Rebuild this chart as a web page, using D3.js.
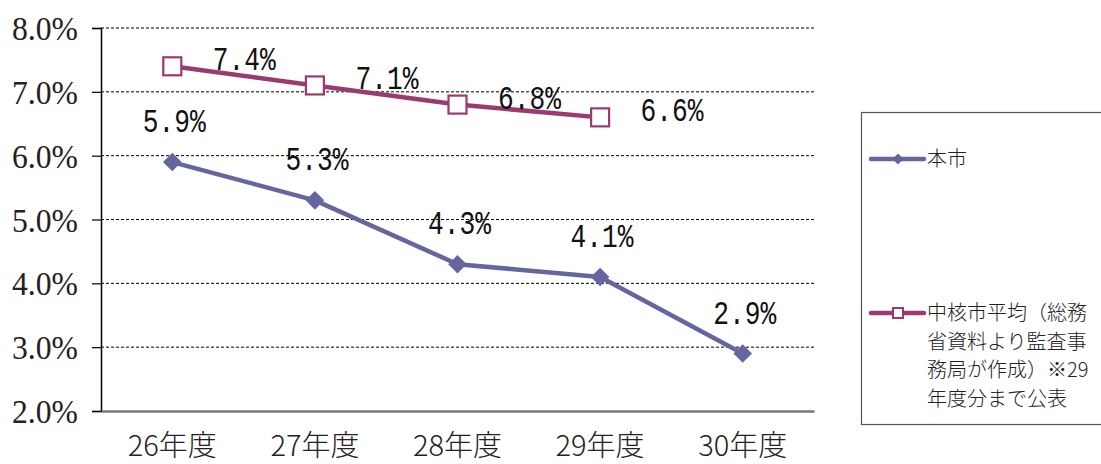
<!DOCTYPE html>
<html>
<head>
<meta charset="utf-8">
<script src="https://cdn.jsdelivr.net/npm/d3@7"></script>
<style>
  body { margin: 0; background: #fff; }
  svg { display: block; }
  .ytick { font-family: "Liberation Serif", "DejaVu Serif", serif; }
</style>
</head>
<body>
<svg id="chart" width="1101" height="464"></svg>
<script>
// Data
var years = ["26年度", "27年度", "28年度", "29年度", "30年度"];
var cityRate = [5.9, 5.3, 4.3, 4.1, 2.9];
var coreAvg = [7.4, 7.1, 6.8, 6.6];
var yTicks = [2, 3, 4, 5, 6, 7, 8];
var cityName = "本市";
var avgNameLines = ["中核市平均（総務", "省資料より監査事", "務局が作成）※29", "年度分まで公表"];

var blue = "#6566a0", plum = "#9b3a6f";

var svg = d3.select("#chart");
var margin = {top: 28, left: 101},
    width = 713,
    height = 383;

var x = d3.scaleBand().domain(years).range([0, width]);
var y = d3.scaleLinear().domain([2, 8]).range([height, 0]);

var g = svg.append("g")
    .attr("transform", "translate(" + margin.left + "," + margin.top + ")");

// Gridlines
g.selectAll(".grid")
    .data(yTicks.slice(1))
    .enter().append("line")
    .attr("x1", 0).attr("x2", width)
    .attr("y1", function(d) { return y(d); })
    .attr("y2", function(d) { return y(d); })
    .attr("stroke", "#000")
    .attr("stroke-width", 1)
    .attr("stroke-dasharray", "3,2");

// Y axis
var yAxis = d3.axisLeft(y).tickValues(yTicks).tickSize(9).tickPadding(14)
    .tickFormat(function(d) { return d.toFixed(1) + "%"; });
var ya = g.append("g").call(yAxis);
ya.select(".domain").attr("stroke", "#000").attr("stroke-width", 1.5);
ya.selectAll(".tick line").attr("stroke", "#000").attr("stroke-width", 1.2);
ya.selectAll(".tick text")
    .attr("class", "ytick")
    .style("font-family", "'Liberation Serif', 'DejaVu Serif', serif")
    .attr("font-size", 34)
    .attr("fill", "#222")
    .attr("dy", "0.34em")
    .attr("textLength", 66)
    .attr("lengthAdjust", "spacingAndGlyphs");

// X axis
var xAxis = d3.axisBottom(x).tickSize(0).tickPadding(24);
var xa = g.append("g")
    .attr("transform", "translate(0," + height + ")")
    .call(xAxis);
xa.select(".domain").attr("stroke", "#777").attr("stroke-width", 2.5);
xa.selectAll(".tick text")
    .attr("font-family", "'Noto Sans CJK JP', sans-serif")
    .attr("font-size", 29)
    .attr("font-weight", 300)
    .attr("fill", "#222");

function cx(i) { return x(years[i]) + x.bandwidth() / 2; }

// Lines
var line = d3.line()
    .x(function(d, i) { return cx(i); })
    .y(function(d) { return y(d); });

g.append("path")
    .attr("d", line(cityRate))
    .attr("fill", "none")
    .attr("stroke", blue)
    .attr("stroke-width", 4.5)
    .attr("stroke-linejoin", "round");

g.append("path")
    .attr("d", line(coreAvg))
    .attr("fill", "none")
    .attr("stroke", plum)
    .attr("stroke-width", 4.5)
    .attr("stroke-linejoin", "round");

// Markers
g.selectAll(".dia")
    .data(cityRate)
    .enter().append("path")
    .attr("d", d3.symbol().type(d3.symbolDiamond2).size(220))
    .attr("transform", function(d, i) { return "translate(" + cx(i) + "," + y(d) + ")"; })
    .attr("fill", blue);

g.selectAll(".sq")
    .data(coreAvg)
    .enter().append("rect")
    .attr("x", function(d, i) { return cx(i) - 9; })
    .attr("y", function(d) { return y(d) - 9; })
    .attr("width", 18).attr("height", 18)
    .attr("fill", "#fff")
    .attr("stroke", plum)
    .attr("stroke-width", 2.2);

// Data labels (tall, narrow monospace look)
var labelFont = "'Liberation Mono', monospace";
function pct(d) { return d.toFixed(1) + "%"; }

g.selectAll(".lblA")
    .data(cityRate)
    .enter().append("text")
    .attr("x", function(d, i) { return cx(i) + 2; })
    .attr("y", function(d) { return y(d) - 30; })
    .attr("text-anchor", "middle")
    .attr("font-family", labelFont)
    .attr("font-size", 34)
    .attr("textLength", 63)
    .attr("lengthAdjust", "spacingAndGlyphs")
    .attr("fill", "#111")
    .text(pct);

g.selectAll(".lblB")
    .data(coreAvg)
    .enter().append("text")
    .attr("x", function(d, i) { return cx(i) + 72; })
    .attr("y", function(d) { return y(d) + 4; })
    .attr("text-anchor", "middle")
    .attr("font-family", labelFont)
    .attr("font-size", 34)
    .attr("textLength", 63)
    .attr("lengthAdjust", "spacingAndGlyphs")
    .attr("fill", "#111")
    .text(pct);

// Legend
var lg = svg.append("g");
lg.append("rect")
    .attr("x", 861.5).attr("y", 112.5)
    .attr("width", 260).attr("height", 312)
    .attr("fill", "#fff")
    .attr("stroke", "#555")
    .attr("stroke-width", 1.2);

lg.append("line")
    .attr("x1", 871).attr("x2", 924).attr("y1", 159).attr("y2", 159)
    .attr("stroke", blue).attr("stroke-width", 4.5).attr("stroke-linecap", "round");
lg.append("path")
    .attr("d", d3.symbol().type(d3.symbolDiamond2).size(80))
    .attr("transform", "translate(898,159)")
    .attr("fill", blue);
lg.append("text")
    .attr("x", 927).attr("y", 166)
    .attr("font-family", "'Noto Sans CJK JP', sans-serif")
    .attr("font-size", 20)
    .attr("font-weight", 300)
    .attr("fill", "#222")
    .text(cityName);

lg.append("line")
    .attr("x1", 871).attr("x2", 924).attr("y1", 313).attr("y2", 313)
    .attr("stroke", plum).attr("stroke-width", 4.5).attr("stroke-linecap", "round");
lg.append("rect")
    .attr("x", 893).attr("y", 308).attr("width", 10).attr("height", 10)
    .attr("fill", "#fff").attr("stroke", plum).attr("stroke-width", 2);
lg.selectAll(".avgName")
    .data(avgNameLines)
    .enter().append("text")
    .attr("x", 927)
    .attr("y", function(d, i) { return 320 + i * 28.5; })
    .attr("font-family", "'Noto Sans CJK JP', sans-serif")
    .attr("font-size", 20)
    .attr("font-weight", 300)
    .attr("fill", "#222")
    .text(function(d) { return d; });
</script>
</body>
</html>
